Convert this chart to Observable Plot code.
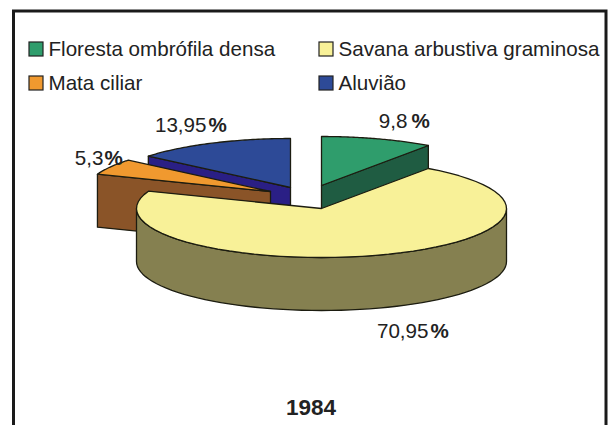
<!DOCTYPE html>
<html><head><meta charset="utf-8">
<script src="https://cdn.jsdelivr.net/npm/d3@7"></script>
<script src="https://cdn.jsdelivr.net/npm/@observablehq/plot@0.6"></script>
<style>html,body{margin:0;padding:0;background:#fff;overflow:hidden}svg{display:block}</style>
</head><body><div id="chart"></div>
<script>
const categories = ["Floresta ombrófila densa", "Savana arbustiva graminosa", "Mata ciliar", "Aluvião"];
const shares = [9.8, 70.95, 5.3, 13.95];
const shareLabels = ["9,8", "70,95", "5,3", "13,95"];
const topColors = ["#2f9d6c", "#f8f198", "#f0992f", "#2d4a97"];
const sideColors = ["#1f5c42", "#858050", "#8a5428", "#2a1f85"];
const chartTitle = "1984";

const rx = 185, ry = 49, depth = 53;
const apex = [[321,185],[321,208],[270,191],[290,187]];
let acc = 0;
const slices = shares.map((s,i)=>{const a0=acc/100*2*Math.PI; acc+=s; const a1=acc/100*2*Math.PI; return {i,a0,a1,cx:apex[i][0],cy:apex[i][1]};});
const pt = (s,a,d=0)=>({x:s.cx+rx*Math.sin(a), y:s.cy-ry*Math.cos(a)+d});
const arc = (s,a0,a1,d=0)=>d3.range(0,61).map(k=>pt(s,a0+(a1-a0)*k/60,d));
const topFace = s=>[{x:s.cx,y:s.cy},...arc(s,s.a0,s.a1)];
const radial = (s,a)=>[{x:s.cx,y:s.cy},pt(s,a),pt(s,a,depth),{x:s.cx,y:s.cy+depth}];
const rim = (s,a0,a1)=>[...arc(s,a0,a1),...arc(s,a1,a0,depth)];
const poly = (pts,fill)=>Plot.line(pts,{x:"x",y:"y",fill,stroke:"#1c1c10",strokeWidth:1.3,curve:"linear-closed"});

const [g,y,o,b] = slices;
const marks = [
  poly(radial(b,b.a0),sideColors[3]),
  poly(topFace(b),topColors[3]),
  poly(radial(g,g.a1),sideColors[0]),
  poly(topFace(g),topColors[0]),
  poly(radial(o,o.a0),sideColors[2]),
  poly(topFace(o),topColors[2]),
  poly(rim(y,Math.PI/2,3*Math.PI/2),sideColors[1]),
  poly(topFace(y),topColors[1])
];

const legendPos = [[36,49],[326,49],[36,83],[326,83]];
const legend = categories.map((name,i)=>({name,color:topColors[i],x:legendPos[i][0],y:legendPos[i][1]}));
const numberEnd = [407,428,103,206], percentStart = [411,430,104,208], labelY = [121,331,158,125];
const labels = shareLabels.map((t,i)=>({t,xn:numberEnd[i],xp:percentStart[i],y:labelY[i]}));
const font = {fontFamily:"Liberation Sans, Arial, sans-serif", fontSize:20.6, fill:"#222"};

document.getElementById("chart").append(Plot.plot({
  width:608,height:425,margin:0,
  style:{background:"#fff"},
  x:{domain:[0,608],range:[0,608],axis:null},
  y:{domain:[0,425],range:[0,425],axis:null},
  marks:[
    Plot.rect([{}],{x1:()=>13.5,x2:()=>606,y1:()=>11,y2:()=>432,fill:"#fff",stroke:"#1a1a1a",strokeWidth:3,clip:false}),
    ...marks,
    Plot.rect(legend,{x1:d=>d.x-7,x2:d=>d.x+7,y1:d=>d.y-7,y2:d=>d.y+7,fill:"color",stroke:"#222",strokeWidth:1.2}),
    Plot.text(legend,{x:d=>d.x+12,y:"y",text:"name",textAnchor:"start",...font}),
    Plot.text(labels,{x:"xn",y:"y",text:"t",textAnchor:"end",...font}),
    Plot.text(labels,{x:"xp",y:"y",text:()=>"%",textAnchor:"start",...font,fontWeight:"bold"}),
    Plot.text([chartTitle],{x:()=>310.5,y:()=>407,text:d=>d,textAnchor:"middle",...font,fontSize:22.5,fontWeight:"bold"})
  ]
}));
</script></body></html>
